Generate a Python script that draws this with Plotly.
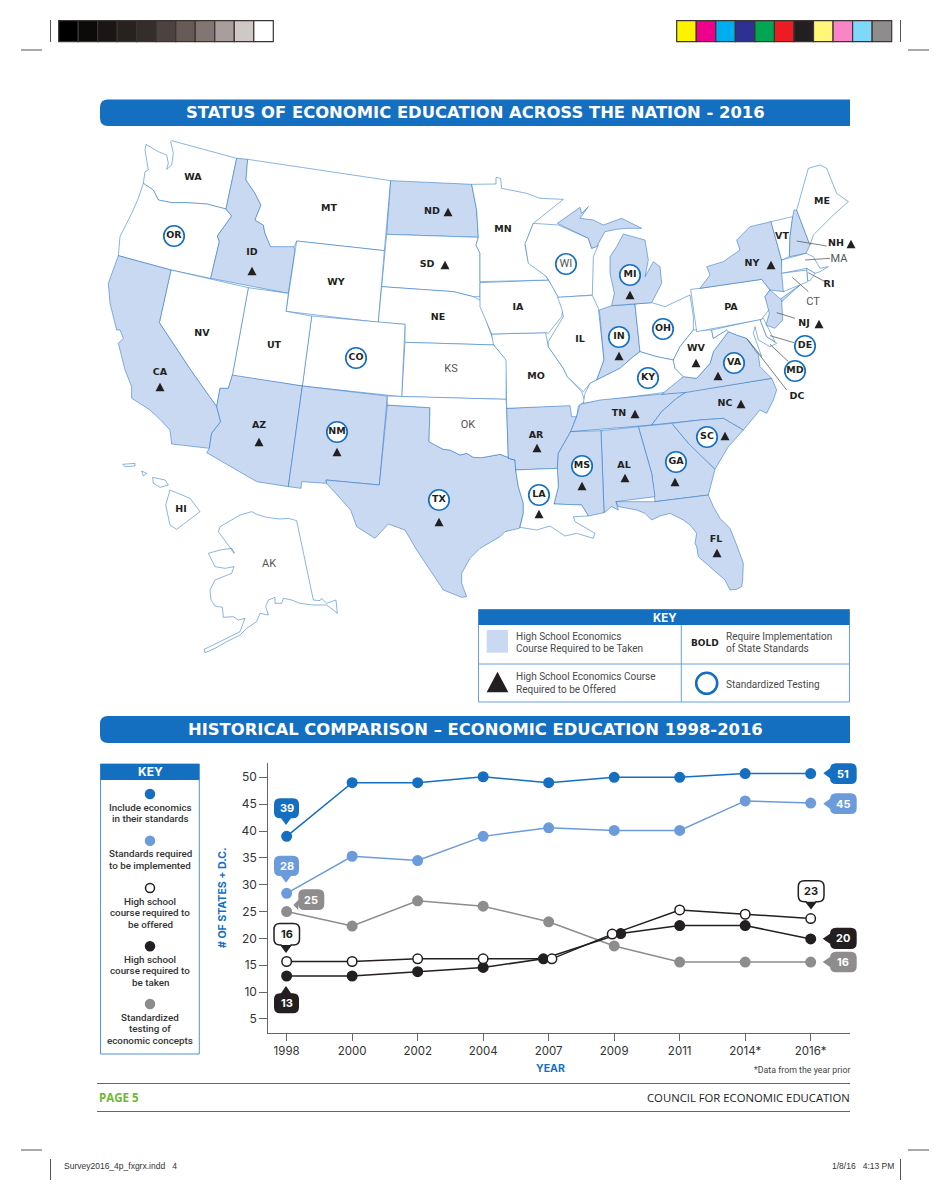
import plotly.graph_objects as go

# line chart data
YEARS = ["1998", "2000", "2002", "2004", "2007", "2009", "2011", "2014*", "2016*"]
YEAR_POS = [0, 1, 2, 3, 4, 5, 6, 7, 8]
INCLUDE_STANDARDS = [39, 49, 49, 50.1, 49, 50, 50, 50.7, 50.7]
STANDARDS_IMPLEMENTED = [28.4, 35.3, 34.5, 39, 40.6, 40.1, 40.1, 45.6, 45.2]
TESTING = [25, 22.3, 27, 26, 23.1, 18.6, 15.6, 15.6, 15.6]
COURSE_OFFERED = [15.7, 15.7, 16.2, 16.2, 16.2, 20.8, 25.3, 24.5, 23.7]
COURSE_TAKEN = [13, 13, 13.8, 14.6, 16.2, 20.9, 22.4, 22.4, 19.9]
# the open and filled markers are nudged apart in 2007 and 2009
OFFERED_POS = [0, 1, 2, 3, 4.05, 4.97, 6, 7, 8]
TAKEN_POS = [0, 1, 2, 3, 3.92, 5.1, 6, 7, 8]

BLUE = "#156fc1"
LIGHT_BLUE = "#6c9bdc"
GREY = "#8e8c8c"
BLACK = "#231f20"
SHADE = "#c9d9f2"
BORDER = "rgba(20,105,190,0.55)"

GREY_BAR = ["#000000", "#0d0b0a", "#1a1615", "#28221f", "#332d2c", "#4d4240",
            "#675b58", "#827673", "#a89f9c", "#cfc8c6", "#ffffff"]
COLOUR_BAR = ["#fff200", "#ec008c", "#00aeef", "#2e3192", "#00a651", "#ed1c24",
              "#231f20", "#fff67a", "#f984c8", "#80d8f8", "#8e8c8c"]


def crop(ox, oy, pts):
    """ outlines were traced on 3x crops of the page, bring them back to page pixels """
    return [(ox + x / 3, oy + y / 3) for x, y in pts]


def nw(*pts):
    return crop(100, 130, pts)


def ne(*pts):
    return crop(480, 160, pts)


def sw(*pts):
    return crop(100, 370, pts)


def se(*pts):
    return crop(480, 390, pts)


OUTLINES = {
    "WA": nw((138, 43), (175, 65), (200, 75), (205, 100), (200, 118), (215, 105), (220, 70), (212, 35), (215, 32),
             (410, 85), (378, 237), (320, 222), (260, 218), (215, 218), (175, 210), (160, 180), (130, 160), (135, 125),
             (145, 120), (135, 60)),
    "OR": nw((130, 160), (160, 180), (175, 210), (215, 218), (260, 218), (320, 222), (378, 237), (395, 258), (352, 318),
             (358, 335), (332, 445), (213, 420), (55, 377), (60, 320), (95, 250), (115, 205)),
    "ID": nw((410, 85), (443, 88), (438, 150), (465, 190), (483, 225), (465, 270), (490, 285), (495, 310), (512, 350),
             (580, 345), (585, 362), (565, 490), (332, 445), (358, 335), (352, 318), (395, 258), (378, 237)),
    "MT": nw((443, 88), (872, 152), (853, 362), (590, 333), (583, 350), (512, 350), (495, 310), (490, 285), (465, 270),
             (483, 225), (465, 190), (438, 150)),
    "ND": nw((872, 152), (1115, 163), (1130, 240), (1135, 322), (860, 313)),
    "SD": nw((860, 313), (1135, 322), (1128, 345), (1140, 370), (1140, 500), (1120, 500), (1060, 485), (845, 470)),
    "WY": nw((590, 333), (853, 362), (835, 577), (558, 544)),
    "NE": nw((845, 470), (1060, 485), (1120, 500), (1140, 510), (1165, 590), (1185, 645), (915, 637), (915, 583),
             (835, 577)),
    "KS": nw((915, 637), (1185, 645)) + ne((40, 553), (80, 600), (78, 718)) + nw((905, 800)),
    "CO": nw((635, 558), (915, 583), (905, 800), (607, 768)),
    "UT": nw((445, 473), (565, 490), (558, 544), (635, 558), (607, 768), (397, 737)),
    "NV": nw((213, 420), (445, 473), (397, 737)) + sw((385, 55), (360, 55), (350, 110), (272, 0)) + nw((178, 578)),
    "CA": nw((55, 377), (213, 420), (178, 578)) + sw((272, 0), (350, 110), (362, 155), (335, 190), (328, 235), (215, 222),
                                                    (210, 180), (180, 148), (150, 120), (95, 85), (95, 50), (75, 0))
          + nw((65, 680), (55, 640), (70, 625), (60, 600), (50, 600), (30, 520), (25, 460)),
    "AZ": sw((397, 15), (607, 48), (565, 350), (470, 335), (320, 248), (328, 235), (335, 190), (362, 155), (350, 110),
             (360, 55), (385, 55)),
    "NM": sw((607, 48), (862, 78), (838, 345), (678, 330), (680, 340), (605, 335), (603, 355), (565, 350)),
    "TX": sw((862, 105), (990, 113), (987, 215), (1005, 225), (1030, 238), (1050, 240), (1080, 255), (1100, 250),
             (1120, 262), (1145, 263))
          + se((60, 193), (105, 210), (107, 240), (115, 290), (130, 340), (130, 370), (118, 415), (75, 425), (60, 440),
               (0, 475))
          + sw((1110, 565), (1085, 610), (1085, 640), (1100, 680), (1085, 682), (1030, 660), (990, 600), (950, 540),
               (915, 480), (865, 462), (825, 505), (770, 470), (752, 420), (680, 340), (678, 330), (838, 345)),
    "OK": sw((862, 78)) + se((78, 28), (80, 55), (85, 205), (105, 210), (60, 193))
          + sw((1145, 263), (1120, 262), (1100, 250), (1080, 255), (1050, 240), (1030, 238), (1005, 225), (987, 215),
               (990, 113), (862, 105)),
    "AR": se((80, 55), (270, 45), (290, 80), (272, 125), (255, 155), (235, 190), (232, 235), (107, 240), (105, 210),
             (85, 205)),
    "MO": ne((35, 522), (197, 518), (205, 560), (250, 625), (262, 650), (305, 695), (315, 725), (295, 738), (290, 770),
             (275, 770), (270, 737), (80, 745), (78, 600), (40, 553)),
    "IA": ne((0, 368), (205, 360), (218, 380), (250, 440), (245, 470), (205, 520), (197, 518), (35, 522), (0, 440)),
    "MN": nw((1115, 163), (1130, 240), (1135, 322), (1128, 345), (1140, 370), (1140, 455))
          + ne((205, 360), (195, 345), (145, 305), (135, 255), (140, 240), (160, 190), (250, 118), (180, 115), (140, 100),
               (65, 85), (62, 55), (48, 52), (48, 72), (0, 72)),
    "WI": ne((140, 240), (160, 190), (235, 195), (325, 235), (335, 265), (355, 255), (340, 290), (337, 405), (235, 412),
             (215, 375), (200, 350), (145, 310), (135, 250)),
    "IL": ne((233, 412), (337, 406), (355, 445), (372, 600), (350, 660), (330, 670), (310, 695), (300, 685), (262, 650),
             (250, 625), (205, 560), (205, 545), (250, 470), (245, 445)),
    "IN": ne((358, 450), (395, 437), (465, 432), (480, 575), (460, 590), (420, 625), (380, 645), (350, 660), (372, 600)),
    "OH": ne((465, 432), (515, 428), (555, 440), (630, 405), (640, 470), (640, 510), (600, 560), (580, 600), (530, 590),
             (480, 575)),
    "KY": ne((350, 660), (380, 645), (420, 625), (460, 590), (480, 575), (530, 590), (580, 600), (585, 625), (610, 650),
             (570, 695), (360, 722), (310, 730), (315, 700), (330, 670)),
    "MI": ne((395, 437), (515, 428), (545, 370), (540, 320), (520, 305), (495, 350), (505, 300), (495, 240), (430, 222),
             (410, 260), (390, 290), (390, 340), (403, 400)),
    "MIU": ne((232, 190), (300, 142), (305, 160), (325, 140), (300, 175), (340, 180), (370, 195), (425, 175), (485, 205),
              (440, 205), (410, 208), (375, 215), (350, 260), (335, 265), (325, 235)),
    "TN": se((300, 43), (360, 30), (620, 5), (590, 25), (545, 65), (515, 105), (272, 125), (290, 80)),
    "NC": se((620, 5)) + ne((875, 655), (890, 690), (880, 720), (860, 760))
          + se((840, 60), (790, 120), (730, 85), (660, 90), (575, 100), (515, 105), (545, 65), (590, 25)),
    "VA": ne((545, 703), (610, 650), (650, 655), (690, 610), (700, 575), (745, 515), (770, 525), (800, 535), (835, 585),
             (840, 620), (870, 650), (875, 655), (620, 697)),
    "WV": ne((640, 510), (695, 510), (700, 535), (740, 510), (745, 515), (700, 575), (690, 610), (650, 655), (610, 650),
             (585, 625), (580, 600), (600, 560)),
    "MD": ne((695, 510), (840, 478), (860, 530), (890, 550), (870, 560), (835, 540), (825, 500), (820, 520), (845, 590),
             (800, 535), (770, 525), (745, 515), (740, 510), (700, 535)),
    "DE": ne((840, 478), (850, 475), (885, 545), (860, 530)),
    "PA": ne((632, 388), (660, 385), (845, 358), (870, 390), (855, 410), (870, 445), (845, 478), (650, 515)),
    "NY": ne((660, 385), (690, 345), (680, 320), (730, 305), (780, 270), (770, 240), (810, 200), (873, 185), (905, 300),
             (912, 395), (870, 390), (845, 358)),
    "LI": ne((900, 418), (960, 375), (905, 425)),
    "NJ": ne((870, 390), (905, 420), (908, 480), (885, 505), (858, 495), (868, 460), (855, 410)),
    "VT": ne((873, 185), (938, 170), (930, 230), (928, 290), (905, 300)),
    "NH": ne((938, 170), (942, 150), (950, 150), (990, 255), (978, 280), (928, 290), (930, 230)),
    "ME": ne((950, 150), (985, 25), (1020, 15), (1040, 25), (1070, 100), (1105, 125), (1060, 165), (1030, 195), (1000, 225),
             (990, 255)),
    "MA": ne((905, 300), (978, 280), (1000, 290), (1020, 325), (1045, 320), (1020, 335), (1005, 340), (980, 325),
             (905, 340)),
    "RI": ne((980, 325), (1005, 340), (990, 362), (983, 362)),
    "CT": ne((905, 340), (980, 330), (983, 365), (910, 395)),
    "SC": se((575, 100), (660, 90), (730, 85), (790, 120), (745, 170), (705, 238), (665, 200), (625, 160)),
    "GA": se((475, 110), (575, 100), (625, 160), (665, 200), (705, 238), (685, 315), (525, 335), (515, 250)),
    "AL": se((363, 122), (475, 110), (515, 250), (525, 320), (408, 335), (415, 360), (395, 350), (372, 368)),
    "MS": se((272, 125), (363, 122), (372, 368), (325, 378), (305, 345), (222, 342), (235, 290), (232, 235), (235, 190),
             (255, 155)),
    "LA": se((107, 240), (232, 235), (235, 290), (222, 342), (305, 345), (325, 378), (280, 380), (285, 395), (345, 430),
             (340, 445), (290, 430), (255, 438), (210, 408), (170, 420), (120, 412), (130, 370), (130, 340), (115, 290)),
    "FL": se((408, 335), (525, 335), (685, 315), (700, 350), (720, 385), (750, 415), (770, 465), (790, 520), (788, 570),
             (785, 590), (770, 598), (750, 600), (735, 570), (700, 540), (680, 520), (655, 500), (650, 470), (645, 460),
             (650, 430), (630, 405), (610, 390), (570, 370), (540, 378), (515, 390), (495, 370), (470, 360), (415, 350)),
    "HI": sw((210, 360), (270, 385), (300, 425), (230, 478), (210, 465), (197, 405)),
    "HI2": sw((68, 283), (105, 280), (105, 288), (75, 290)),
    "HI3": sw((125, 303), (140, 310), (130, 318)),
    "HI4": sw((158, 322), (195, 330), (205, 345), (180, 352), (160, 340)),
    "AK": sw((355, 485), (360, 470), (395, 450), (420, 435), (455, 425), (470, 433), (500, 442), (540, 447), (565, 445),
             (590, 452), (640, 690), (660, 692), (665, 685), (680, 700), (708, 690), (712, 730), (700, 720), (680, 705),
             (640, 705), (600, 700), (575, 690), (550, 685), (545, 700), (525, 700), (525, 682), (505, 690), (497, 710),
             (505, 735), (480, 730), (470, 755), (440, 775), (420, 795), (380, 815), (345, 835), (315, 848), (312, 838),
             (340, 825), (400, 795), (420, 785), (435, 745), (415, 750), (400, 740), (370, 742), (367, 712), (345, 708),
             (333, 690), (330, 660), (345, 630), (370, 620), (395, 610), (402, 590), (375, 595), (345, 590), (325, 550),
             (360, 540), (395, 535), (403, 550), (385, 525), (370, 505)),
}

SHADED = ["ID", "ND", "CA", "AZ", "NM", "TX", "AR", "MS", "AL", "GA", "SC", "NC", "TN", "VA", "FL",
          "MI", "MIU", "IN", "NY", "LI", "NJ", "NH"]

BOLD_LABELS = {
    "WA": (193, 178), "OR": (174, 236), "ID": (252, 253), "MT": (329, 209), "ND": (432, 212), "SD": (427, 265),
    "WY": (336, 283), "NE": (438, 318), "NV": (202, 334), "UT": (274, 346), "CO": (356, 358), "CA": (160, 373),
    "AZ": (259, 426), "NM": (337, 432), "TX": (439, 500), "HI": (181, 510), "MN": (503, 230), "IA": (518, 308),
    "IL": (580, 340), "MO": (536, 377), "AR": (536, 436), "LA": (539, 495), "MS": (582, 466), "AL": (624, 466),
    "TN": (619, 414), "KY": (648, 378), "IN": (619, 337), "MI": (630, 275), "OH": (663, 329), "WV": (696, 349),
    "VA": (734, 363), "NC": (725, 404), "SC": (707, 437), "GA": (676, 462), "FL": (716, 540), "PA": (731, 308),
    "NY": (752, 264), "VT": (782, 237), "ME": (822, 202), "NH": (836, 244), "RI": (829, 285), "NJ": (804, 324),
    "DE": (805, 346), "MD": (795, 371), "DC": (797, 397),
}
LIGHT_LABELS = {"KS": (451, 369), "OK": (468, 425), "AK": (269, 564), "WI": (566, 264), "MA": (839, 259), "CT": (813, 302)}
RINGS = ["OR", "CO", "NM", "TX", "WI", "MI", "IN", "OH", "KY", "VA", "DE", "MD", "SC", "GA", "MS", "LA"]
TRIANGLES = {
    "ND": (448, 212), "SD": (445, 265), "ID": (252, 271), "CA": (160, 387), "AZ": (259, 442), "NM": (337, 452),
    "TX": (439, 522), "AR": (537, 448), "LA": (539, 514), "MS": (582, 486), "AL": (625, 478), "GA": (675, 482),
    "SC": (725, 436), "FL": (717, 553), "TN": (635, 414), "NC": (741, 404), "VA": (718, 376), "WV": (696, 363),
    "IN": (619, 356), "MI": (630, 295), "NY": (771, 265), "NH": (851, 244), "NJ": (819, 324),
}
LEADERS = [ne((950, 243), (1040, 258)), ne((975, 300), (1050, 295)), ne((985, 338), (1035, 365)),
           ne((937, 352), (985, 395)), ne((890, 458), (945, 475)), ne((870, 527), (942, 548)),
           ne((870, 553), (925, 605)), ne((800, 535), (920, 690))]

fig = go.Figure()
shapes = []
notes = []


def rect(x0, y0, x1, y1, fill="rgba(0,0,0,0)", line=None, width=1):
    shapes.append(dict(type="rect", xref="x2", yref="y2", x0=x0, y0=y0, x1=x1, y1=y1, fillcolor=fill, layer="below",
                       line=dict(color=line or fill, width=width if line else 0)))


def rule(x0, y0, x1, y1, color="#555555", width=1):
    shapes.append(dict(type="line", xref="x2", yref="y2", x0=x0, y0=y0, x1=x1, y1=y1, layer="below",
                       line=dict(color=color, width=width)))


def triangle(x, y, w=9, h=8.5):
    shapes.append(dict(type="path", xref="x2", yref="y2", fillcolor=BLACK, layer="above", line=dict(width=0),
                       path=f"M {x - w / 2} {y + h / 2} L {x + w / 2} {y + h / 2} L {x} {y - h / 2} Z"))


def note(text, x, y, size=11, color="#333333", family="Roboto", anchor="center", bold=False, weight=None, **kw):
    font = dict(size=size, color=color, family=family)
    if weight:
        font["weight"] = weight
    notes.append(dict(text=f"<b>{text}</b>" if bold else text, x=x, y=y, xref="x2", yref="y2", showarrow=False,
                      xanchor=anchor, yanchor="middle", font=font, borderpad=0, borderwidth=0, **kw))


def header(text, y0, y1):
    r = 8
    path = (f"M 850 {y0} L {100 + r} {y0} Q 100 {y0} 100 {y0 + r} L 100 {y1 - r} Q 100 {y1} {100 + r} {y1} "
            f"L 850 {y1} Z")
    shapes.append(dict(type="path", xref="x2", yref="y2", path=path, fillcolor=BLUE, layer="below", line=dict(width=0)))
    note(text, 475.5, (y0 + y1) / 2, size=16.4, color="white", family="DejaVu Sans", bold=True)


def callout(text, x0, y0, x1, y1, tip, fill, color="white", line=None):
    """ rounded label with a small pointer, tip is (x, y) of the pointer end """
    r = 6
    tx, ty = tip
    mx, my = (x0 + x1) / 2, (y0 + y1) / 2
    if ty > y1:
        parts = f"L {x1} {y1 - r} Q {x1} {y1} {x1 - r} {y1} L {tx + 5} {y1} L {tx} {ty} L {tx - 5} {y1} L {x0 + r} {y1} "
        left = ""
    elif ty < y0:
        parts = f"L {x1} {y1 - r} Q {x1} {y1} {x1 - r} {y1} L {x0 + r} {y1} "
        left = ""
    else:
        parts = f"L {x1} {y1 - r} Q {x1} {y1} {x1 - r} {y1} L {x0 + r} {y1} "
        left = f"L {x0} {ty + 5} L {tx} {ty} L {x0} {ty - 5} "
    top = f"L {tx - 5} {y0} L {tx} {ty} L {tx + 5} {y0} " if ty < y0 else ""
    path = (f"M {x0 + r} {y0} {top}L {x1 - r} {y0} Q {x1} {y0} {x1} {y0 + r} {parts}"
            f"Q {x0} {y1} {x0} {y1 - r} {left}L {x0} {y0 + r} Q {x0} {y0} {x0 + r} {y0} Z")
    shapes.append(dict(type="path", xref="x2", yref="y2", path=path, fillcolor=fill, layer="above",
                       line=dict(color=line or fill, width=1.5 if line else 0)))
    if line:
        # the pointer of the outlined labels is solid
        shapes.append(dict(type="path", xref="x2", yref="y2", fillcolor=line, layer="above", line=dict(width=0),
                           path=f"M {tx - 5} {y1} L {tx + 5} {y1} L {tx} {ty} Z"))
    note(text, mx, my, size=11, color=color, family="Inter", bold=True)


# printer marks
cell = (273.3 - 58.7) / len(GREY_BAR)
for i, c in enumerate(GREY_BAR):
    rect(58.7 + i * cell, 20.7, 58.7 + (i + 1) * cell, 41.7, fill=c, line="#3a3433", width=1.2)
cell = (891.7 - 676.7) / len(COLOUR_BAR)
for i, c in enumerate(COLOUR_BAR):
    rect(676.7 + i * cell, 20.7, 676.7 + (i + 1) * cell, 41.7, fill=c, line="#3a3433", width=1.2)
for x in (50.5, 900.5):
    rule(x, 20, x, 42)
    rule(x, 1159, x, 1180)
for x0, x1 in ((21, 42), (908, 929)):
    rule(x0, 50, x1, 50)
    rule(x0, 1150, x1, 1150)

header("STATUS OF ECONOMIC EDUCATION ACROSS THE NATION - 2016", 99.5, 126)
header("HISTORICAL COMPARISON \u2013 ECONOMIC EDUCATION 1998-2016", 716, 743)

# the map is drawn on a page sized axis pair
for state, pts in OUTLINES.items():
    fig.add_trace(go.Scatter(x=[p[0] for p in pts] + [pts[0][0]], y=[p[1] for p in pts] + [pts[0][1]],
                             mode="lines", fill="toself", fillcolor=SHADE if state in SHADED else "white",
                             line=dict(color=BORDER, width=0.9), xaxis="x2", yaxis="y2", showlegend=False,
                             hoverinfo="skip"))
for seg in LEADERS:
    fig.add_trace(go.Scatter(x=[p[0] for p in seg], y=[p[1] for p in seg], mode="lines", xaxis="x2", yaxis="y2",
                             line=dict(color="#5f5f5f", width=0.8), showlegend=False, hoverinfo="skip"))

all_labels = {**BOLD_LABELS, **LIGHT_LABELS}
fig.add_trace(go.Scatter(x=[all_labels[s][0] for s in RINGS], y=[all_labels[s][1] for s in RINGS], mode="markers",
                         xaxis="x2", yaxis="y2", showlegend=False, hoverinfo="skip",
                         marker=dict(size=20.5, color="white", line=dict(color=BLUE, width=1.7))))
for x, y in TRIANGLES.values():
    triangle(x, y)
fig.add_trace(go.Scatter(x=[v[0] for v in BOLD_LABELS.values()], y=[v[1] for v in BOLD_LABELS.values()], mode="text",
                         text=list(BOLD_LABELS), textposition="middle center", xaxis="x2", yaxis="y2", showlegend=False,
                         hoverinfo="skip", textfont=dict(family="DejaVu Sans", size=9.5, color=BLACK, weight=700)))
fig.add_trace(go.Scatter(x=[v[0] for v in LIGHT_LABELS.values()], y=[v[1] for v in LIGHT_LABELS.values()], mode="text",
                         text=list(LIGHT_LABELS), textposition="middle center", xaxis="x2", yaxis="y2", showlegend=False,
                         hoverinfo="skip", textfont=dict(family="Roboto", size=11, color="#555555")))

# map key
rect(478.5, 609.5, 849.5, 702, fill="white", line="#6b9fdc", width=1)
rect(478.5, 609.5, 849.5, 625, fill=BLUE)
rule(681.3, 625, 681.3, 702, color="#6b9fdc")
rule(478.5, 664, 849.5, 664, color="#6b9fdc")
rect(486.7, 630, 508, 652.7, fill=SHADE)
note("KEY", 665, 617.5, size=11.5, color="white", family="Inter", bold=True)
key_text = "#4a4a4a"
note("High School Economics", 515.5, 636, size=10, color=key_text, anchor="left")
note("Course Required to be Taken", 515.5, 648.7, size=10, color=key_text, anchor="left")
note("High School Economics Course", 515.5, 676.7, size=10, color=key_text, anchor="left")
note("Required to be Offered", 515.5, 689.3, size=10, color=key_text, anchor="left")
note("BOLD", 704.5, 643, size=9, color=BLACK, family="DejaVu Sans", bold=True)
note("Require Implementation", 726, 636, size=10, color=key_text, anchor="left")
note("of State Standards", 726, 648.7, size=10, color=key_text, anchor="left")
note("Standardized Testing", 726, 684, size=10, color=key_text, anchor="left")
triangle(497.5, 682, w=21.7, h=20.6)
fig.add_trace(go.Scatter(x=[706.7], y=[683.3], mode="markers", xaxis="x2", yaxis="y2", showlegend=False, hoverinfo="skip",
                         marker=dict(size=21, color="white", line=dict(color=BLUE, width=2.6))))

# chart key
rect(100.5, 764, 199.3, 1054, fill="white", line="#4f93dc", width=1)
rect(100.5, 764, 199.3, 780, fill=BLUE)
note("KEY", 150, 771.5, size=12, color="white", family="Inter", bold=True)
KEY_ITEMS = [(794, BLUE, ["Include economics", "in their standards"]),
             (840.7, LIGHT_BLUE, ["Standards required", "to be implemented"]),
             (888, "white", ["High school", "course required to", "be offered"]),
             (946.3, BLACK, ["High school", "course required to", "be taken"]),
             (1004, GREY, ["Standardized", "testing of", "economic concepts"])]
for y, colour, lines in KEY_ITEMS:
    edge = BLACK if colour == "white" else colour
    fig.add_trace(go.Scatter(x=[150], y=[y], mode="markers", xaxis="x2", yaxis="y2", showlegend=False, hoverinfo="skip",
                             marker=dict(size=9, color=colour, line=dict(color=edge, width=1.5))))
    for i, line in enumerate(lines):
        note(line, 150, y + 13.2 + i * 11.4, size=9.8, color="#333333", family="Roboto", weight=500)

# line chart
SERIES = [(YEAR_POS, TESTING, GREY, GREY, "Standardized testing"),
          (YEAR_POS, STANDARDS_IMPLEMENTED, LIGHT_BLUE, LIGHT_BLUE, "Standards required to be implemented"),
          (YEAR_POS, INCLUDE_STANDARDS, BLUE, BLUE, "Include economics in their standards"),
          (TAKEN_POS, COURSE_TAKEN, BLACK, BLACK, "High school course required to be taken"),
          (OFFERED_POS, COURSE_OFFERED, BLACK, "white", "High school course required to be offered")]
for x, y, colour, fill, name in SERIES:
    fig.add_trace(go.Scatter(x=x, y=y, mode="lines+markers", name=name, showlegend=False,
                             line=dict(color=colour, width=1.5),
                             marker=dict(size=9.5, color=fill, line=dict(color=colour, width=1.5))))

callout("39", 274, 798.3, 299, 818.3, (286, 825), BLUE)
callout("28", 274, 855.7, 299, 876, (286, 882.7), LIGHT_BLUE)
callout("25", 298.3, 889.3, 324.3, 910, (293.3, 905), GREY)
callout("16", 274, 923.5, 299.5, 945, (286, 951.7), "white", color=BLACK, line=BLACK)
callout("13", 274, 993.3, 299, 1013.3, (286, 986), BLACK)
callout("51", 830, 763.3, 856.7, 784, (823.3, 773.3), BLUE)
callout("45", 830, 793.3, 856.7, 814, (823.3, 803.7), LIGHT_BLUE)
callout("20", 830, 927.7, 856.7, 949, (822.7, 938.7), BLACK)
callout("16", 830, 951.7, 856.7, 972.3, (822.7, 962), GREY)
callout("23", 798.3, 880.7, 824, 901.7, (811, 908.3), "white", color=BLACK, line=BLACK)

note("# OF STATES + D.C.", 222, 898, size=10.6, color=BLUE, family="Inter", bold=True, textangle=-90)
note("YEAR", 550.5, 1068.5, size=10.5, color=BLUE, family="Inter", bold=True)
note("*Data from the year prior", 850, 1070, size=8.8, color="#444444", anchor="right")

# footer
rule(97, 1083.5, 850, 1083.5, color="#666666")
rule(97, 1111.5, 850, 1111.5, color="#666666")
note("PAGE 5", 99, 1097.5, size=11.5, color="#6fb92c", family="Open Sans", anchor="left", bold=True)
note("COUNCIL FOR ECONOMIC EDUCATION", 850, 1097.5, size=11.3, color="#222222", family="Open Sans", anchor="right")
note("Survey2016_4p_fxgrx.indd   4", 64, 1166, size=8.5, color="#333333", family="Liberation Sans", anchor="left")
note("1/8/16   4:13 PM", 894, 1166, size=8.5, color="#333333", family="Liberation Sans", anchor="right")

fig.update_layout(
    width=950, height=1200, margin=dict(l=0, r=0, t=0, b=0, pad=0), autosize=False,
    paper_bgcolor="white", plot_bgcolor="rgba(0,0,0,0)", shapes=shapes, annotations=notes, showlegend=False,
    xaxis=dict(domain=[268.3 / 950, 850 / 950], range=[-0.28, 8.6], tickvals=YEAR_POS, ticktext=YEARS, showgrid=False,
               zeroline=False, showline=True, linecolor="#666666", linewidth=1, ticks="outside", ticklen=7,
               tickcolor="#666666", tickfont=dict(family="Inter", size=11.5, color="#333333"), anchor="y"),
    yaxis=dict(domain=[1 - 1033 / 1200, 1 - 763 / 1200], range=[2.39, 52.66], tickvals=[5, 10, 15, 20, 25, 30, 35, 40, 45, 50],
               showgrid=False, zeroline=False, showline=True, linecolor="#666666", linewidth=1, ticks="outside", ticklen=8,
               tickcolor="#666666", tickfont=dict(family="Inter", size=12, color="#333333"), anchor="x"),
    xaxis2=dict(domain=[0, 1], range=[0, 950], visible=False, fixedrange=True, anchor="y2"),
    yaxis2=dict(domain=[0, 1], range=[1200, 0], visible=False, fixedrange=True, anchor="x2"),
)

fig.write_html("out.html", config={"displayModeBar": False}, post_script="document.body.style.margin='0';")
